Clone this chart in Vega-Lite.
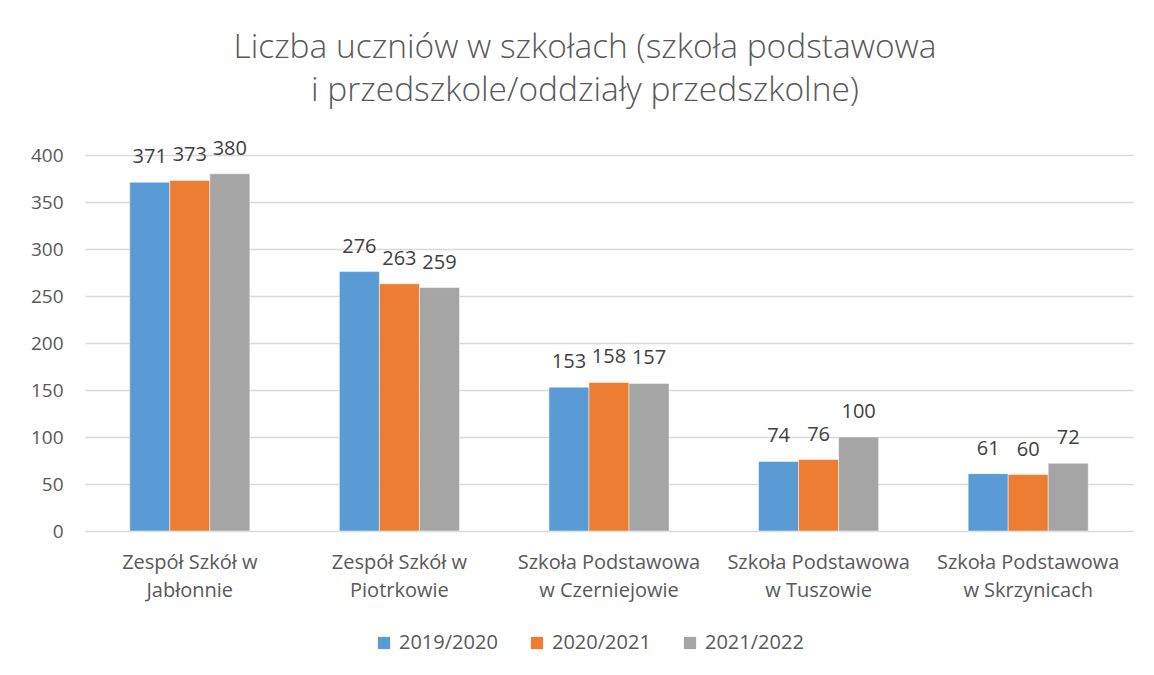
{
  "$schema": "https://vega.github.io/schema/vega-lite/v6.json",
  "width": 1048,
  "height": 376,
  "autosize": {"type": "none"},
  "padding": {"left": 85, "top": 155, "right": 21, "bottom": 144},
  "background": "white",
  "title": {
    "text": ["Liczba uczniów w szkołach (szkoła podstawowa", "i przedszkole/oddziały przedszkolne)"],
    "anchor": "middle",
    "frame": "group",
    "dx": -24,
    "offset": 30,
    "fontSize": 33.5,
    "font": "Open Sans",
    "fontWeight": 300,
    "color": "#595959",
    "lineHeight": 43
  },
  "data": {
    "values": [
      {"szkola": "Zespół Szkół w Jabłonnie", "rok": "2019/2020", "liczba": 371},
      {"szkola": "Zespół Szkół w Jabłonnie", "rok": "2020/2021", "liczba": 373},
      {"szkola": "Zespół Szkół w Jabłonnie", "rok": "2021/2022", "liczba": 380},
      {"szkola": "Zespół Szkół w Piotrkowie", "rok": "2019/2020", "liczba": 276},
      {"szkola": "Zespół Szkół w Piotrkowie", "rok": "2020/2021", "liczba": 263},
      {"szkola": "Zespół Szkół w Piotrkowie", "rok": "2021/2022", "liczba": 259},
      {"szkola": "Szkoła Podstawowa w Czerniejowie", "rok": "2019/2020", "liczba": 153},
      {"szkola": "Szkoła Podstawowa w Czerniejowie", "rok": "2020/2021", "liczba": 158},
      {"szkola": "Szkoła Podstawowa w Czerniejowie", "rok": "2021/2022", "liczba": 157},
      {"szkola": "Szkoła Podstawowa w Tuszowie", "rok": "2019/2020", "liczba": 74},
      {"szkola": "Szkoła Podstawowa w Tuszowie", "rok": "2020/2021", "liczba": 76},
      {"szkola": "Szkoła Podstawowa w Tuszowie", "rok": "2021/2022", "liczba": 100},
      {"szkola": "Szkoła Podstawowa w Skrzynicach", "rok": "2019/2020", "liczba": 61},
      {"szkola": "Szkoła Podstawowa w Skrzynicach", "rok": "2020/2021", "liczba": 60},
      {"szkola": "Szkoła Podstawowa w Skrzynicach", "rok": "2021/2022", "liczba": 72}
    ]
  },
  "encoding": {
    "x": {
      "field": "szkola",
      "type": "nominal",
      "sort": null,
      "scale": {"paddingInner": 0.427, "paddingOuter": 0.2135},
      "axis": {
        "title": null,
        "labelAngle": 0,
        "domain": false,
        "ticks": false,
        "labelFont": "Open Sans",
        "labelFontSize": 20,
        "labelColor": "#595959",
        "labelPadding": 21,
        "labelLineHeight": 28,
        "labelLimit": 0,
        "labelOverlap": false,
        "labelExpr": "indexof(datum.value, 'Podstawowa') >= 0 ? ['Szkoła Podstawowa', replace(datum.value, 'Szkoła Podstawowa ', '')] : ['Zespół Szkół w', replace(datum.value, 'Zespół Szkół w ', '')]"
      }
    },
    "xOffset": {"field": "rok", "type": "nominal", "scale": {"paddingInner": 0, "paddingOuter": 0}},
    "y": {
      "field": "liczba",
      "type": "quantitative",
      "scale": {"domain": [0, 400], "nice": false},
      "axis": {
        "title": null,
        "values": [0, 50, 100, 150, 200, 250, 300, 350, 400],
        "domain": false,
        "ticks": false,
        "grid": true,
        "gridColor": "#d9d9d9",
        "gridWidth": 1.3,
        "labelFont": "Open Sans",
        "labelFontSize": 19,
        "labelColor": "#595959",
        "labelPadding": 22
      }
    }
  },
  "layer": [
    {
      "mark": {"type": "bar", "stroke": "#ffffff", "strokeWidth": 0.8, "strokeOpacity": 0.6},
      "encoding": {
        "color": {
          "field": "rok",
          "type": "nominal",
          "scale": {"range": ["#5B9BD5", "#ED7D31", "#A5A5A5"]},
          "legend": {
            "title": null,
            "orient": "none",
            "direction": "horizontal",
            "legendX": 289,
            "legendY": 478,
            "symbolType": "square",
            "symbolSize": 150,
            "symbolStrokeWidth": 0,
            "symbolOpacity": 1,
            "labelFont": "Open Sans",
            "labelFontSize": 20,
            "labelColor": "#595959",
            "columnPadding": 29,
            "labelOffset": 5
          }
        }
      }
    },
    {
      "mark": {"type": "text", "baseline": "alphabetic", "dy": -19, "font": "Open Sans", "fontSize": 20, "color": "#404040"},
      "encoding": {"text": {"field": "liczba", "type": "quantitative"}}
    }
  ],
  "config": {"view": {"stroke": null}}
}
